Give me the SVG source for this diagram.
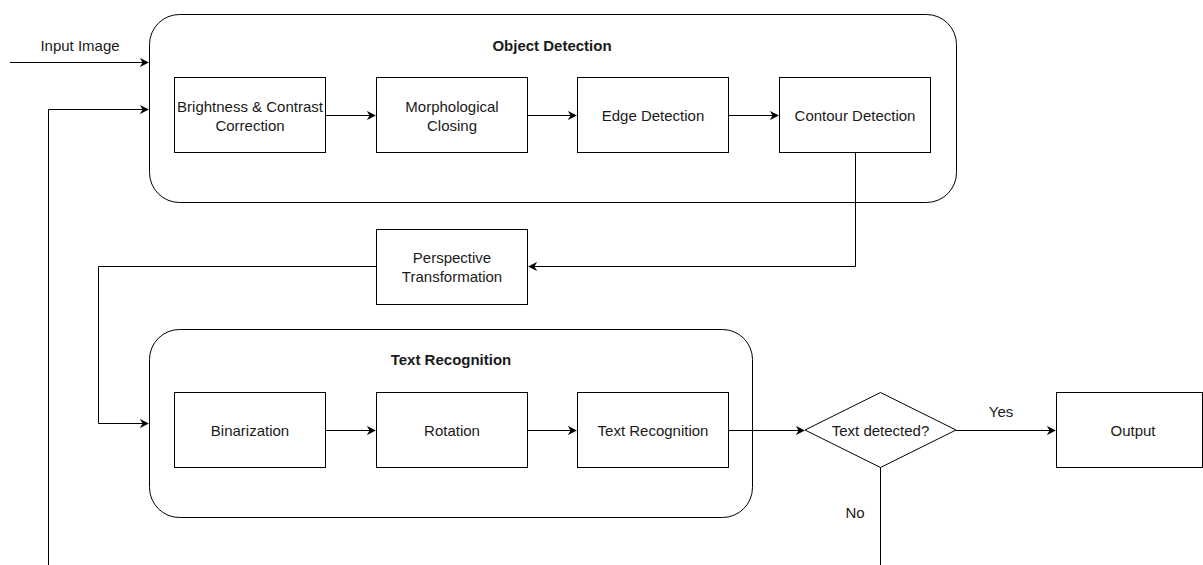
<svg xmlns="http://www.w3.org/2000/svg" width="1203" height="565" viewBox="0 0 1203 565">
<defs>
<marker id="arr" viewBox="0 0 10 10" refX="9" refY="5" markerWidth="9" markerHeight="9" markerUnits="userSpaceOnUse" orient="auto">
<path d="M0,0 L10,5 L0,10 L3,5 Z" fill="#000"/>
</marker>
<style>
.box{fill:#fff;stroke:#000;stroke-width:1}
.grp{fill:#fff;stroke:#000;stroke-width:1}
.t{font-family:"Liberation Sans",Arial,sans-serif;font-size:15px;fill:#1a1a1a;text-anchor:middle;dominant-baseline:central}
.b{font-weight:bold;font-size:15px}
.c{fill:none;stroke:#000;stroke-width:1}
</style>
</defs>
<rect width="1203" height="565" fill="#fff"/>
<g id="object-detection">
<rect class="grp" x="149.5" y="14.5" width="807" height="188" rx="30" ry="30"/>
<text class="t b" x="552" y="45">Object Detection</text>
</g>
<g id="text-recognition-group">
<rect class="grp" x="149.5" y="329.5" width="603" height="188" rx="30" ry="30"/>
<text class="t b" x="451" y="359">Text Recognition</text>
</g>
<g id="brightness">
<rect class="box" x="174.5" y="77.5" width="151" height="75"/>
<text class="t" x="250" y="106">Brightness &amp; Contrast</text>
<text class="t" x="250" y="125">Correction</text>
</g>
<g id="morph">
<rect class="box" x="376.5" y="77.5" width="151" height="75"/>
<text class="t" x="452" y="106">Morphological</text>
<text class="t" x="452" y="125">Closing</text>
</g>
<g id="edge">
<rect class="box" x="577.5" y="77.5" width="151" height="75"/>
<text class="t" x="653" y="115">Edge Detection</text>
</g>
<g id="contour">
<rect class="box" x="779.5" y="77.5" width="151" height="75"/>
<text class="t" x="855" y="115">Contour Detection</text>
</g>
<g id="perspective">
<rect class="box" x="376.5" y="229.5" width="151" height="75"/>
<text class="t" x="452" y="257">Perspective</text>
<text class="t" x="452" y="276">Transformation</text>
</g>
<g id="binarization">
<rect class="box" x="174.5" y="392.5" width="151" height="75"/>
<text class="t" x="250" y="430">Binarization</text>
</g>
<g id="rotation">
<rect class="box" x="376.5" y="392.5" width="151" height="75"/>
<text class="t" x="452" y="430">Rotation</text>
</g>
<g id="text-recognition">
<rect class="box" x="577.5" y="392.5" width="151" height="75"/>
<text class="t" x="653" y="430">Text Recognition</text>
</g>
<g id="decision">
<polygon class="box" points="880.5,392.5 956,430 880.5,467.5 805,430"/>
<text class="t" x="880.5" y="430">Text detected?</text>
</g>
<g id="output">
<rect class="box" x="1056.5" y="392.5" width="146" height="75"/>
<text class="t" x="1133" y="430">Output</text>
</g>
<g id="connectors">
<path class="c" d="M10,62.5 H148" marker-end="url(#arr)"/>
<text class="t" x="80" y="45">Input Image</text>
<path class="c" d="M48.5,565 V109.5 H148" marker-end="url(#arr)"/>
<path class="c" d="M325.5,115.5 H375" marker-end="url(#arr)"/>
<path class="c" d="M527.5,115.5 H576" marker-end="url(#arr)"/>
<path class="c" d="M728.5,115.5 H778" marker-end="url(#arr)"/>
<path class="c" d="M855.5,152.5 V266.5 H529" marker-end="url(#arr)"/>
<path class="c" d="M376.5,266.5 H98.5 V423.5 H148" marker-end="url(#arr)"/>
<path class="c" d="M325.5,430.5 H375" marker-end="url(#arr)"/>
<path class="c" d="M527.5,430.5 H576" marker-end="url(#arr)"/>
<path class="c" d="M728.5,430.5 H804" marker-end="url(#arr)"/>
<path class="c" d="M956,430.5 H1055" marker-end="url(#arr)"/>
<text class="t" x="1001" y="411">Yes</text>
<path class="c" d="M880.5,467.5 V565"/>
<text class="t" x="855" y="512">No</text>
</g>
</svg>
